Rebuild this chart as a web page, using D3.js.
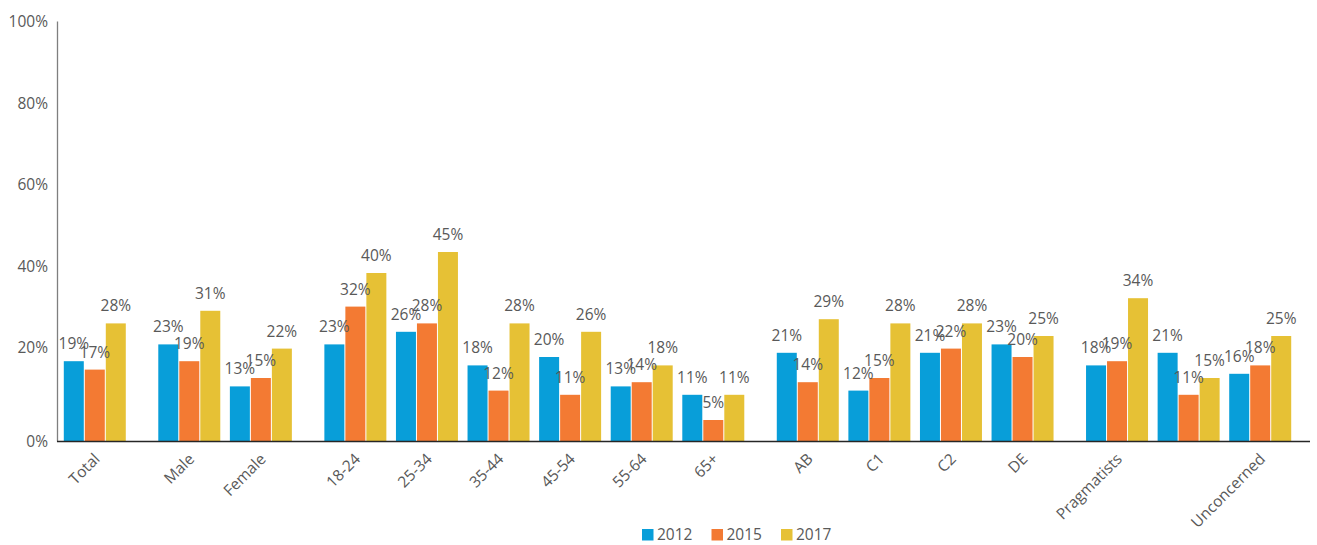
<!DOCTYPE html>
<html>
<head>
<meta charset="utf-8">
<script src="https://cdn.jsdelivr.net/npm/d3@7"></script>
<style>
  html, body { margin: 0; padding: 0; background: #fff; }
  svg { display: block; font-family: "Open Sans", "Noto Sans", sans-serif; }
</style>
</head>
<body>
<svg id="chart" width="1317" height="545"></svg>
<script>
// ---- data ----
const categories = ["Total", "Male", "Female", "18-24", "25-34", "35-44", "45-54", "55-64", "65+",
  "AB", "C1", "C2", "DE", "Pragmatists", "", "Unconcerned"];
const segments = ["All", "Gender", "Gender", "Age", "Age", "Age", "Age", "Age", "Age",
  "Grade", "Grade", "Grade", "Grade", "Attitude", "Attitude", "Attitude"];
const years = ["2012", "2015", "2017"];
const values2012 = [19, 23, 13, 23, 26, 18, 20, 13, 11, 21, 12, 21, 23, 18, 21, 16];
const values2015 = [17, 19, 15, 32, 28, 12, 11, 14, 5, 14, 15, 22, 20, 19, 11, 18];
const values2017 = [28, 31, 22, 40, 45, 28, 26, 18, 11, 29, 28, 28, 25, 34, 15, 25];
const yTicks = [0, 20, 40, 60, 80, 100];
const colors = ["#089ed9", "#f37a33", "#e6c135"];

const seriesValues = [values2012, values2015, values2017];
const svg = d3.select("#chart");
const textColor = "#595959";
const fontSize = 15.5;

// ---- layout ----
const plot = { left: 57, right: 1310, top: 21, bottom: 441 };
const gapUnit = 0.32;
let gaps = 0;
const unitPos = categories.map((c, i) => {
  if (i > 0 && segments[i] !== segments[i - 1]) gaps++;
  return i + gaps * gapUnit;
});
const totalUnits = categories.length + gaps * gapUnit;

const x = d3.scaleLinear().domain([0, totalUnits]).range([59, 1296]);
const slot = x(1) - x(0);
const groupW = slot * 0.866;
const x1 = d3.scaleBand().domain(years).range([0, groupW]).paddingInner(1 / 21).paddingOuter(0);
const y = d3.scaleLinear().domain([0, 100]).range([plot.bottom, plot.top]);
const yLab = d3.scaleLinear().domain([0, 100]).range([428, plot.top]);

const groupLeft = i => x(unitPos[i]) + (slot - groupW) / 2;

// ---- bars ----
const rows = categories.map((c, i) => ({ i, c, vals: years.map((yr, s) => ({ yr, s, v: seriesValues[s][i] })) }));

const g = svg.append("g");
const groups = g.selectAll("g.grp").data(rows).join("g")
  .attr("class", "grp")
  .attr("transform", d => `translate(${groupLeft(d.i)},0)`);

groups.selectAll("rect").data(d => d.vals).join("rect")
  .attr("x", d => x1(d.yr))
  .attr("y", d => y(d.v))
  .attr("width", x1.bandwidth())
  .attr("height", d => y(0) - y(d.v))
  .attr("fill", d => colors[d.s]);

groups.selectAll("text").data(d => d.vals).join("text")
  .attr("x", d => x1(d.yr) + x1.bandwidth() / 2)
  .attr("y", d => y(d.v) - 12)
  .attr("text-anchor", "middle")
  .attr("font-size", fontSize)
  .attr("fill", textColor)
  .text(d => d.v + "%");

// ---- y axis ----
const yAxis = d3.axisLeft(y).tickValues(yTicks).tickSize(0).tickPadding(9).tickFormat(d => d + "%");
const yg = svg.append("g").attr("transform", `translate(${plot.left},0)`).call(yAxis);
yg.select(".domain").attr("stroke", "#7f7f7f").attr("stroke-width", 1.3);
yg.selectAll(".tick text")
  .attr("font-size", fontSize)
  .attr("font-family", "'Open Sans', sans-serif")
  .attr("fill", textColor)
  .attr("y", d => d === 0 ? 1 : yLab(d) - y(d) + 1);

// ---- x axis ----
svg.append("line")
  .attr("x1", plot.left).attr("x2", plot.right)
  .attr("y1", y(0) + 0.5).attr("y2", y(0) + 0.5)
  .attr("stroke", "#262626").attr("stroke-width", 1.5);

svg.append("g").selectAll("text").data(rows).join("text")
  .attr("transform", d => `translate(${groupLeft(d.i) + groupW / 2 + 6},${plot.bottom + 19}) rotate(-45)`)
  .attr("text-anchor", "end")
  .attr("font-size", fontSize)
  .attr("fill", textColor)
  .text(d => d.c);

// ---- legend ----
const legend = svg.append("g").attr("transform", "translate(642,529)");
const li = legend.selectAll("g").data(years).join("g")
  .attr("transform", (d, i) => `translate(${i * 69.5},0)`);
li.append("rect").attr("width", 11.5).attr("height", 11.5).attr("fill", (d, i) => colors[i]);
li.append("text").attr("x", 15).attr("y", 11).attr("font-size", fontSize).attr("fill", textColor).text(d => d);
</script>
</body>
</html>
